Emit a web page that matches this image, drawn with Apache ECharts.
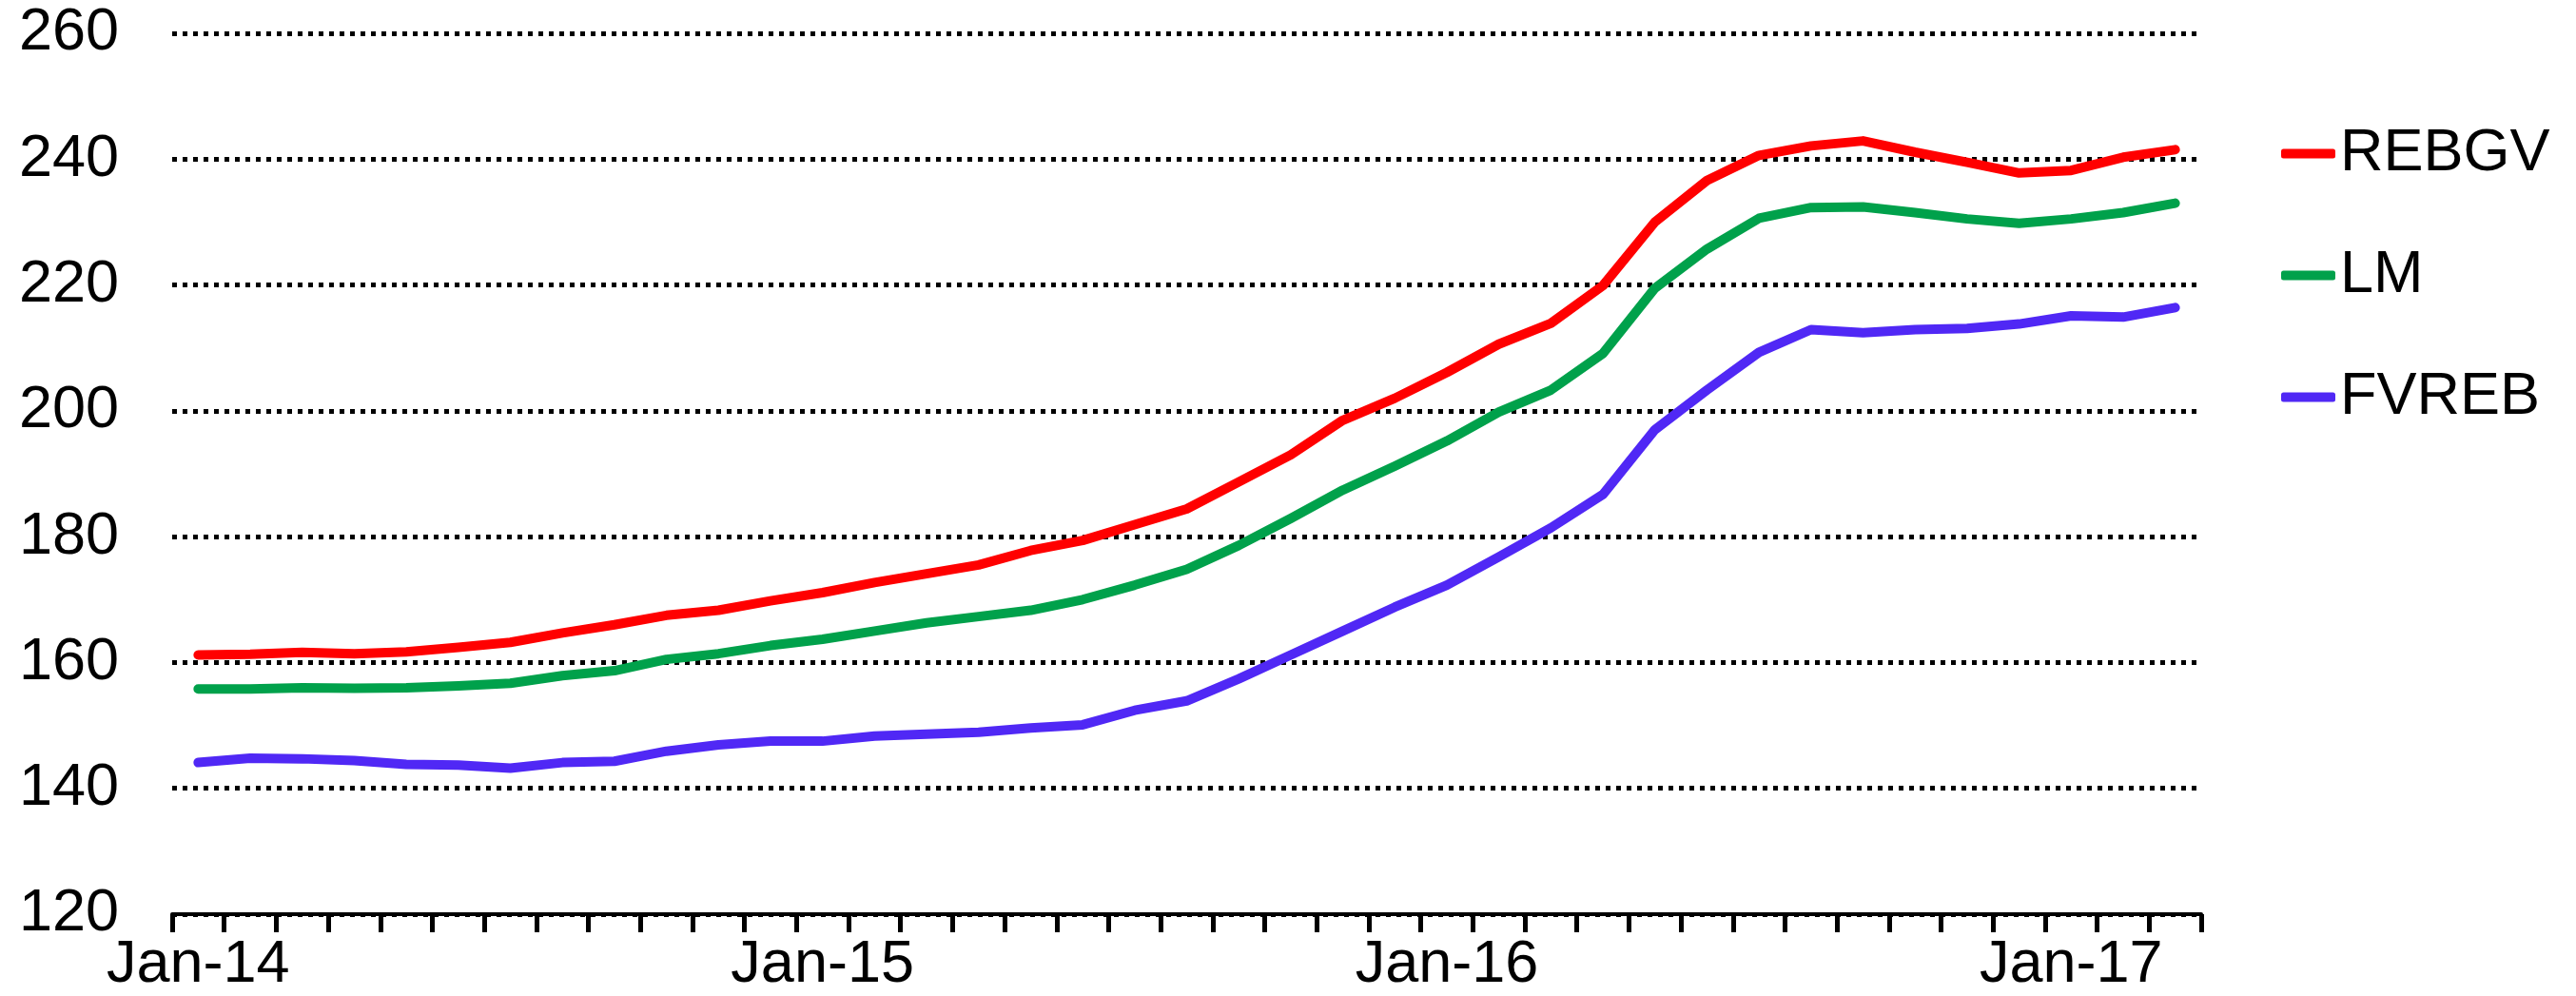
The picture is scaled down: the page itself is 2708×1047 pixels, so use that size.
<!DOCTYPE html>
<html>
<head>
<meta charset="utf-8">
<title>REBGV / LM / FVREB</title>
<script src="https://cdn.jsdelivr.net/npm/echarts@6/dist/echarts.min.js"></script>
<style>
	html, body { margin: 0; padding: 0; background: #fff; }
	#chart { width: 2708px; height: 1047px; }
</style>
</head>
<body>
<div id="chart"></div>
<script>
'use strict';

var months = [
	'Jan-14', 'Feb-14', 'Mar-14', 'Apr-14', 'May-14', 'Jun-14', 'Jul-14', 'Aug-14', 'Sep-14', 'Oct-14', 'Nov-14', 'Dec-14',
	'Jan-15', 'Feb-15', 'Mar-15', 'Apr-15', 'May-15', 'Jun-15', 'Jul-15', 'Aug-15', 'Sep-15', 'Oct-15', 'Nov-15', 'Dec-15',
	'Jan-16', 'Feb-16', 'Mar-16', 'Apr-16', 'May-16', 'Jun-16', 'Jul-16', 'Aug-16', 'Sep-16', 'Oct-16', 'Nov-16', 'Dec-16',
	'Jan-17', 'Feb-17', 'Mar-17'
];

var rebgv = [
	161.2, 161.3, 161.6, 161.4, 161.7, 162.4, 163.2, 164.7, 166.0, 167.5, 168.3, 169.8,
	171.1, 172.7, 174.1, 175.5, 177.8, 179.4, 181.9, 184.4, 188.7, 193.0, 198.5, 202.0,
	206.1, 210.6, 213.9, 219.9, 230.0, 236.6, 240.6, 242.1, 242.9, 241.1, 239.5, 237.8,
	238.2, 240.3, 241.5
];

var lm = [
	155.8, 155.8, 156.0, 155.9, 156.0, 156.3, 156.7, 157.9, 158.7, 160.5, 161.4, 162.7,
	163.7, 165.0, 166.3, 167.3, 168.3, 170.0, 172.3, 174.8, 178.6, 182.9, 187.4, 191.2,
	195.2, 199.8, 203.3, 209.1, 219.5, 225.7, 230.6, 232.3, 232.4, 231.5, 230.5, 229.8,
	230.5, 231.5, 233.0
];

var fvreb = [
	144.1, 144.8, 144.7, 144.4, 143.8, 143.7, 143.2, 144.1, 144.3, 145.9, 146.9, 147.5,
	147.5, 148.3, 148.6, 148.9, 149.6, 150.1, 152.4, 153.9, 157.4, 161.2, 165.0, 168.8,
	172.3, 176.8, 181.4, 186.7, 197.0, 203.3, 209.3, 212.9, 212.4, 212.9, 213.1, 213.8,
	215.1, 214.9, 216.4
];

var yTicks = [120, 140, 160, 180, 200, 220, 240, 260];

var font = '"Liberation Sans", Arial, sans-serif';

function lineSeries(name, data, color) {
	return {
		name: name,
		type: 'line',
		data: data,
		symbol: 'none',
		showSymbol: false,
		color: color,
		lineStyle: { color: color, width: 10, cap: 'round', join: 'round' },
		z: 3
	};
}

var chart = echarts.init(document.getElementById('chart'));

chart.setOption({
	animation: false,
	backgroundColor: '#fff',
	textStyle: { fontFamily: font },
	grid: { left: 181, right: 394, top: 35, bottom: 86, containLabel: false },
	legend: {
		orient: 'vertical',
		left: 2393,
		top: 125,
		itemWidth: 57,
		itemHeight: 10,
		itemGap: 65,
		icon: 'roundRect',
		data: ['REBGV', 'LM', 'FVREB'],
		textStyle: { fontFamily: font, fontSize: 63, color: '#000', lineHeight: 63 }
	},
	xAxis: {
		type: 'category',
		data: months,
		boundaryGap: true,
		axisLine: { lineStyle: { color: '#000', width: 4 } },
		axisTick: { show: true, interval: 0, length: 19, lineStyle: { color: '#000', width: 5 } },
		axisLabel: { interval: 11, margin: 22, color: '#000', fontSize: 63, fontFamily: font },
		splitLine: { show: false }
	},
	yAxis: {
		type: 'value',
		min: yTicks[0],
		max: yTicks[yTicks.length - 1],
		interval: 20,
		axisLine: { show: false },
		axisTick: { show: false },
		axisLabel: { margin: 56, color: '#000', fontSize: 63, fontFamily: font },
		splitLine: { show: true, lineStyle: { color: '#000', width: 5, type: [5, 6] } }
	},
	series: [
		lineSeries('REBGV', rebgv, '#ff0000'),
		lineSeries('LM', lm, '#00a14b'),
		lineSeries('FVREB', fvreb, '#5028f5')
	]
});
</script>
</body>
</html>
